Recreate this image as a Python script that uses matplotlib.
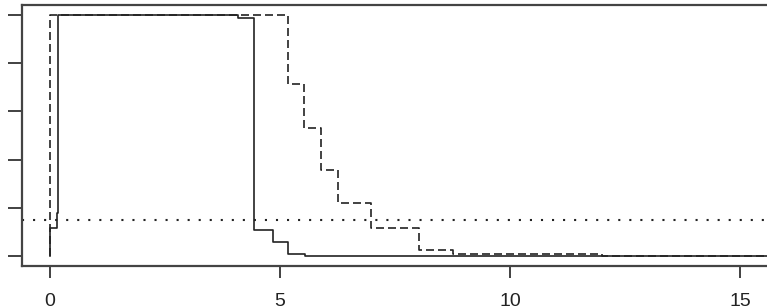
import numpy as np
import matplotlib
matplotlib.use("Agg")
import matplotlib.pyplot as plt

plt.rcParams["font.family"] = ["Liberation Sans", "DejaVu Sans"]

# step curves (time, value after step)
solid_t = [0.0, 0.0, 0.15, 0.17, 4.09, 4.43, 4.85, 5.17, 5.54, 15.8]
solid_y = [0.0, 0.116, 0.18, 1.0, 0.985, 0.108, 0.058, 0.008, 0.002, 0.002]
dashed_t = [0.0, 0.0, 5.17, 5.52, 5.89, 6.26, 6.98, 8.02, 8.76, 12.0, 15.8]
dashed_y = [0.0, 1.0, 0.713, 0.531, 0.357, 0.22, 0.116, 0.025, 0.008, 0.003, 0.003]
threshold = 0.15
x_ticks = [0, 5, 10, 15]
y_ticks = [0.0, 0.2, 0.4, 0.6, 0.8, 1.0]

fig = plt.figure(figsize=(7.67, 3.06), dpi=100)
# the original plot is cropped: right spine and y labels fall off the canvas
ax = fig.add_axes([22 / 767, 40 / 306, 755 / 767, 261 / 306])

ax.plot(solid_t, solid_y, drawstyle="steps-post", color="#222222", lw=1.2)
ax.plot(dashed_t, dashed_y, drawstyle="steps-post", color="#222222", lw=1.2,
        linestyle=(0, (4.8, 2.4)))
ax.axhline(threshold, color="#222222", lw=1.5, linestyle=(0, (1, 4.3)))

ax.set_xlim(-0.61, 15.8)
ax.set_ylim(-0.04, 1.04)
ax.set_xticks(x_ticks)
ax.set_xticklabels([str(v) for v in x_ticks])
ax.set_yticks(y_ticks)
ax.tick_params(axis="y", length=10, width=1.3, color="#333333", labelleft=False)
ax.tick_params(axis="x", length=8.6, width=1.3, color="#333333", pad=11,
               labelsize=14, labelcolor="#222222")
for s in ax.spines.values():
    s.set_color("#444444")
    s.set_linewidth(1.6)

fig.savefig("out.png", dpi=100)
